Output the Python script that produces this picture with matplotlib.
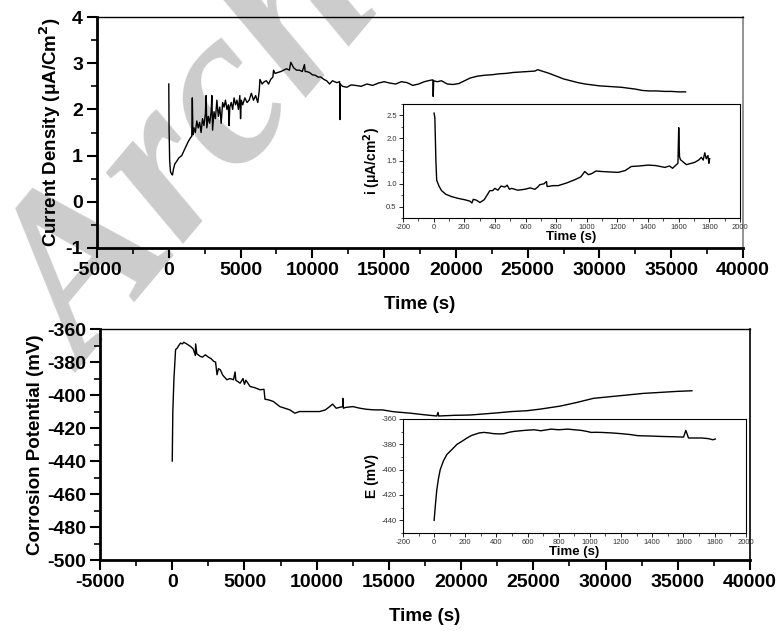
import matplotlib
matplotlib.use('Agg')
import matplotlib.pyplot as plt
from matplotlib.ticker import MultipleLocator, AutoMinorLocator, FormatStrFormatter

plt.rcParams['font.family'] = ['Liberation Sans', 'DejaVu Sans']
plt.rcParams['font.weight'] = 'bold'
plt.rcParams['axes.unicode_minus'] = False

# current density vs time (long run)
cd_time = [0, 20, 60, 120, 200, 260, 320, 420, 560, 700, 900, 1050, 1200, 1350, 1500,
           1600, 1640, 1680, 1760, 1850, 1950, 2050, 2150, 2250, 2350, 2450, 2550, 2600,
           2650, 2750, 2850, 2950, 3000, 3050, 3150, 3250, 3350, 3450, 3550, 3650, 3750,
           3850, 3950, 4050, 4150, 4200, 4250, 4350, 4450, 4550, 4650, 4750, 4850, 4950,
           5000, 5050, 5150, 5300, 5450, 5600, 5750, 5900, 6050, 6200, 6300, 6350, 6500,
           6650, 6800, 6950, 7100, 7250, 7300, 7400, 7600, 7800, 8000, 8200, 8400, 8500,
           8700, 8900, 9100, 9300, 9450, 9500, 9600, 9800, 10000, 10200, 10400, 10600,
           10800, 11000, 11200, 11400, 11700, 11900, 11920, 11950, 12100, 12400, 12700,
           13000, 13400, 13800, 14200, 14600, 15000, 15400, 15800, 16200, 16600, 17000,
           17400, 17800, 18200, 18400, 18420, 18450, 18700, 19000, 19400, 19800, 20200,
           20600, 21000, 21500, 22000, 22500, 23000, 23500, 24000, 24500, 25000, 25500,
           25700, 26000, 26500, 27000, 27500, 28000, 28500, 29000, 29500, 30000, 30500,
           31000, 31500, 32000, 32500, 33000, 33500, 34000, 34500, 35000, 35500, 36000]
cd_value = [2.55, 1.6, 0.9, 0.65, 0.6, 0.58, 0.7, 0.82, 0.88, 0.95, 1.0, 1.1, 1.2, 1.3, 1.38,
            1.42, 2.25, 1.45, 1.6, 1.5, 1.75, 1.6, 1.72, 1.5, 1.8, 1.65, 1.9, 2.3,
            1.6, 1.85, 1.7, 1.95, 2.3, 1.55, 1.95, 1.8, 2.2, 1.85, 2.05, 1.7, 2.15,
            2.05, 2.2, 2.0, 2.1, 1.65, 2.05, 2.15, 2.0, 2.25, 2.1, 2.2, 2.0, 2.3,
            1.8, 2.2, 2.1, 2.25, 2.15, 2.2, 2.35, 2.2, 2.3, 2.15, 2.4, 2.65, 2.55,
            2.6, 2.62, 2.55, 2.65, 2.7, 2.85, 2.78, 2.8, 2.82, 2.85, 2.88, 2.85, 3.02,
            2.9, 2.85, 2.85, 2.82, 2.97, 2.82, 2.82, 2.8, 2.75, 2.74, 2.7, 2.7,
            2.65, 2.62, 2.55, 2.62, 2.58, 2.6, 1.78, 2.55, 2.5, 2.48, 2.53,
            2.52, 2.5, 2.55, 2.52, 2.57, 2.6, 2.57, 2.55, 2.6, 2.58, 2.52,
            2.55, 2.6, 2.63, 2.64, 2.28, 2.62, 2.6, 2.62, 2.55, 2.54, 2.56,
            2.62, 2.68, 2.72, 2.74, 2.75, 2.77, 2.78, 2.8, 2.81, 2.82, 2.83,
            2.86, 2.83, 2.78, 2.72, 2.66, 2.62, 2.58, 2.55, 2.53, 2.51, 2.5,
            2.49, 2.48, 2.46, 2.44, 2.41, 2.4, 2.4, 2.39, 2.39, 2.38, 2.38]

# current density inset (first 1800 s)
cdi_time = [3, 8, 15, 20, 35, 52, 80, 117, 160, 204, 237, 250, 259, 280, 302, 330, 367, 385,
            400, 420, 440, 465, 480, 495, 509, 550, 596, 630, 661, 680, 693, 720, 737, 740,
            743, 780, 813, 870, 922, 960, 987, 1010, 1030, 1060, 1096, 1150, 1204, 1250,
            1291, 1340, 1400, 1450, 1509, 1540, 1560, 1585, 1595, 1600, 1605, 1611, 1650,
            1704, 1730, 1748, 1760, 1770, 1780, 1791, 1797, 1802]
cdi_value = [2.55, 2.45, 1.5, 1.08, 0.95, 0.85, 0.77, 0.72, 0.68, 0.65, 0.62, 0.58, 0.66, 0.64,
             0.59, 0.65, 0.85, 0.85, 0.9, 0.86, 0.95, 0.93, 0.97, 0.88, 0.9, 0.86, 0.88,
             0.91, 0.88, 0.93, 0.98, 1.0, 1.05, 0.95, 0.94, 0.96, 0.96, 1.02, 1.09, 1.15,
             1.27, 1.2, 1.22, 1.28, 1.27, 1.26, 1.25, 1.29, 1.38, 1.39, 1.41, 1.4, 1.36,
             1.39, 1.34, 1.42, 1.45, 2.23, 1.6, 1.53, 1.42, 1.47, 1.52, 1.58, 1.52, 1.68,
             1.55, 1.62, 1.45, 1.55]

# corrosion potential vs time (long run)
cp_time = [0, 40, 115, 230, 345, 450, 573, 700, 800, 1000, 1260, 1450, 1600, 1620, 1700,
           1950, 2100, 2290, 2500, 2700, 2870, 3000, 3100, 3200, 3330, 3500, 3780, 4000,
           4240, 4350, 4400, 4700, 4900, 5000, 5100, 5390, 5700, 6080, 6350, 6420, 6700,
           7000, 7450, 7800, 8140, 8490, 8800, 9290, 9700, 10200, 10600, 10900, 11100,
           11350, 11800, 11810, 11850, 12000, 12500, 13000, 13420, 14000, 14560, 15310,
           16500, 17500, 18320, 18400, 18450, 19500, 20620, 21500, 22500, 23500, 24550,
           25500, 26860, 28000, 29160, 30300, 31470, 32600, 33780, 34900, 35980]
cp_value = [-440, -410, -390.7, -372.5, -371.5, -370, -368.5, -369, -368, -369, -370.5, -372,
            -376, -369, -375, -376.6, -377, -375.6, -377, -378, -379.6, -380, -387.7, -384,
            -384.7, -388, -390.7, -390, -390.7, -386, -391, -392.8, -390, -393.5, -391,
            -394.8, -395.5, -396.8, -396.5, -402.5, -403, -403.9, -407, -408, -409, -411,
            -410, -410, -410, -410, -409, -407, -405.5, -408, -407, -402, -408, -407.5,
            -407, -408, -408.6, -409, -409, -410.1, -411, -412, -412.7, -410.5, -412.7,
            -412.3, -412.1, -411.5, -410.8, -410, -409.5, -408.5, -406.7, -404.5, -402,
            -401, -400, -399, -398.4, -397.8, -397.4]

# corrosion potential inset (first 1800 s)
cpi_time = [0, 8, 17, 28, 39, 60, 82, 115, 147, 180, 211, 240, 265, 290, 319, 350, 383, 420,
            448, 480, 513, 580, 642, 685, 750, 800, 858, 900, 944, 980, 1008, 1040, 1073,
            1140, 1202, 1260, 1310, 1400, 1461, 1530, 1601, 1616, 1633, 1680, 1719, 1760,
            1790, 1805]
cpi_value = [-440, -428, -416, -407, -400, -393, -388, -384, -380, -377.5, -375, -373, -372,
             -371, -370.6, -371, -371.6, -371.8, -371.6, -370.5, -369.8, -369, -368.5,
             -369.3, -368, -368.5, -368, -368.5, -369, -369.8, -370.6, -370.5, -370.6,
             -371, -371.6, -372.3, -373.2, -373.5, -373.8, -374, -374.3, -369, -375,
             -375, -375, -375.5, -376.4, -375.8]

fig = plt.figure(figsize=(7.76, 6.31), dpi=100)

# watermark behind everything
fig.text(0.112, 0.41, 'Archive', fontsize=165, family='Liberation Serif', style='italic',
         weight='bold', color='#cccccc', rotation=50, rotation_mode='anchor',
         ha='left', va='baseline', zorder=-1)


def style_main(ax):
    ax.patch.set_alpha(0)
    ax.spines['left'].set_linewidth(2)
    ax.spines['bottom'].set_linewidth(2)
    ax.spines['top'].set_linewidth(1)
    ax.spines['right'].set_linewidth(1.2)
    ax.tick_params(which='major', direction='out', length=7, width=1.5, labelsize=14, pad=3)
    ax.tick_params(which='minor', direction='out', length=4, width=1.2)
    ax.xaxis.set_major_locator(MultipleLocator(5000))
    ax.xaxis.set_minor_locator(AutoMinorLocator(2))
    ax.yaxis.set_minor_locator(AutoMinorLocator(2))
    ax.set_xlim(-5000, 40000)
    for lab in ax.get_xticklabels() + ax.get_yticklabels():
        lab.set_fontweight('bold')


def style_inset(ax):
    for s in ax.spines.values():
        s.set_linewidth(0.8)
    ax.tick_params(which='major', direction='out', length=3, width=0.6, labelsize=5.5,
                   pad=1.5, labelcolor='#333333')
    ax.tick_params(which='minor', direction='out', length=1.8, width=0.5)
    ax.xaxis.set_major_locator(MultipleLocator(200))
    ax.xaxis.set_minor_locator(AutoMinorLocator(2))
    ax.yaxis.set_minor_locator(AutoMinorLocator(2))
    ax.set_xlim(-200, 2000)
    for lab in ax.get_xticklabels() + ax.get_yticklabels():
        lab.set_fontweight('normal')
    ax.set_xlabel('Time (s)', fontsize=9.5, fontweight='bold', labelpad=0)


# top panel
ax1 = fig.add_axes([0.125, 0.607, 0.8325, 0.366])
ax1.plot(cd_time, cd_value, color='black', lw=1)
ax1.set_ylim(-1, 4)
ax1.yaxis.set_major_locator(MultipleLocator(1))
style_main(ax1)
ax1.spines['right'].set_color('#808080')
ax1.set_xlabel('Time (s)', fontsize=13.5, fontweight='bold', labelpad=12)
ax1.set_ylabel('Current Density (\u03bcA/Cm$^\\mathbf{2}$)', fontsize=13.5,
               fontweight='bold', labelpad=2)

ins1 = fig.add_axes([0.5193, 0.6545, 0.4343, 0.1807])
ins1.plot(cdi_time, cdi_value, color='black', lw=1)
ins1.set_ylim(0.25, 2.75)
ins1.yaxis.set_major_locator(MultipleLocator(0.5))
ins1.yaxis.set_major_formatter(FormatStrFormatter('%.1f'))
style_inset(ins1)
ins1.set_ylabel('i (\u03bcA/cm$^\\mathbf{2}$)', fontsize=10, fontweight='bold', labelpad=2)

# bottom panel
ax2 = fig.add_axes([0.1289, 0.1125, 0.8376, 0.366])
ax2.plot(cp_time, cp_value, color='black', lw=1)
ax2.set_ylim(-500, -360)
ax2.yaxis.set_major_locator(MultipleLocator(20))
style_main(ax2)
ax2.set_xlabel('Time (s)', fontsize=13.5, fontweight='bold', labelpad=12)
ax2.set_ylabel('Corrosion Potential (mV)', fontsize=13.5, fontweight='bold', labelpad=2)

ins2 = fig.add_axes([0.5193, 0.1553, 0.4416, 0.1807])
ins2.plot(cpi_time, cpi_value, color='black', lw=1)
ins2.set_ylim(-450, -360)
ins2.yaxis.set_major_locator(MultipleLocator(20))
style_inset(ins2)
ins2.set_ylabel('E (mV)', fontsize=10, fontweight='bold', labelpad=2)

fig.savefig('out.png', dpi=100)
